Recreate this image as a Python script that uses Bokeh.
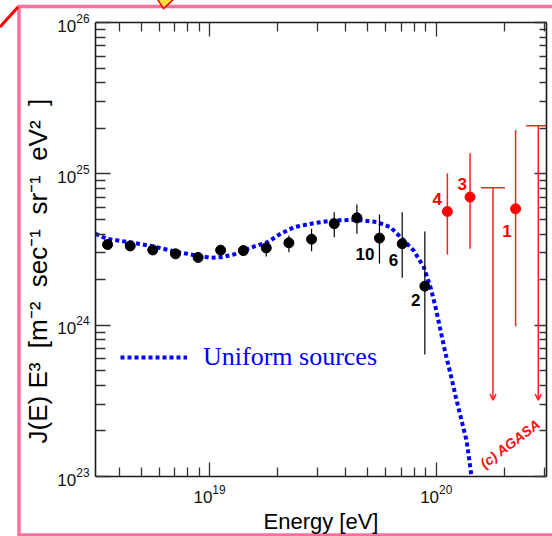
import math
from bokeh.plotting import figure
from bokeh.models import (Range1d, LogAxis, FixedTicker, CustomJSTickFormatter, Label, Title,
                          Arrow, OpenHead, Legend, LegendItem, ColumnDataSource)
from bokeh.embed import file_html
from bokeh.resources import INLINE
from bokeh.core.properties import value

# ---------------- data ----------------
energy = [3.55e18, 4.47e18, 5.62e18, 7.08e18, 8.91e18, 1.12e19, 1.41e19, 1.78e19,
          2.24e19, 2.82e19, 3.55e19, 4.47e19, 5.62e19, 7.08e19, 8.91e19]
flux = [3.41e24, 3.34e24, 3.14e24, 2.96e24, 2.80e24, 3.13e24, 3.11e24, 3.24e24,
        3.50e24, 3.70e24, 4.68e24, 5.12e24, 3.76e24, 3.45e24, 1.81e24]
flux_lo = [3.30e24, 3.23e24, 3.03e24, 2.85e24, 2.69e24, 3.00e24, 2.88e24, 2.84e24,
           3.03e24, 3.08e24, 3.81e24, 4.02e24, 2.56e24, 2.06e24, 0.64e24]
flux_hi = [3.52e24, 3.45e24, 3.26e24, 3.08e24, 2.92e24, 3.27e24, 3.36e24, 3.48e24,
           3.92e24, 4.34e24, 5.58e24, 6.27e24, 5.38e24, 5.58e24, 4.16e24]
event_labels = ["10", "6", "2"]
event_index = [12, 13, 14]

red_energy = [1.12e20, 1.41e20, 2.24e20]
red_flux = [5.64e24, 7.02e24, 5.87e24]
red_lo = [2.93e24, 3.20e24, 0.984e24]
red_hi = [1.01e25, 1.37e25, 1.95e25]
red_labels = ["4", "3", "1"]

ul_energy = [1.78e20, 2.82e20]
ul_flux = [8.09e24, 2.08e25]
ul_end = [3.2e23, 3.2e23]

curve_energy = [3.14e18, 3.52e18, 4.45e18, 5.58e18, 7.03e18, 8.83e18, 1.01e19, 1.12e19,
                1.28e19, 1.40e19, 1.62e19, 1.80e19, 2.06e19, 2.36e19, 2.88e19, 3.53e19,
                4.49e19, 5.50e19, 6.28e19, 6.97e19, 7.96e19, 8.81e19, 9.44e19, 9.93e19,
                1.045e20, 1.10e20, 1.156e20, 1.216e20, 1.294e20, 1.361e20, 1.432e20]
curve_flux = [4.02e24, 3.72e24, 3.53e24, 3.33e24, 3.07e24, 2.88e24, 2.79e24, 2.81e24,
              2.93e24, 3.11e24, 3.36e24, 3.53e24, 4.02e24, 4.44e24, 4.72e24, 4.92e24,
              4.97e24, 4.79e24, 4.44e24, 3.81e24, 3.11e24, 2.42e24, 1.78e24, 1.32e24,
              9.23e23, 6.47e23, 4.78e23, 3.43e23, 2.34e23, 1.73e23, 1.0e23]
curve_label = "Uniform sources"

x_major = [1e19, 1e20]
x_minor = [4e18, 5e18, 6e18, 7e18, 8e18, 9e18] + [k * 1e19 for k in range(2, 10)] + [2e20, 3e20]
y_major = [1e23, 1e24, 1e25, 1e26]
y_minor = [k * 10.0 ** n for n in (23, 24, 25) for k in range(2, 10)]
x_title = "Energy [eV]"
y_title = ("J(E) E\u00b3 \u00a0[m\u207b\u00b2 \u00a0sec\u207b\u00b9 \u00a0sr\u207b\u00b9 "
           "\u00a0eV\u00b2 \u00a0]")
credit = "(c) AGASA"

# ---------------- layout ----------------
W, H = 552, 536
FL, FR, FT, FB = 95, 546, 22, 476
def sx(px):
    return px - FL
def sy(py):
    return FB - py

FONT = "Liberation Sans"
x_lo = 10 ** (19 - (209 - FL) / 226.7)
x_hi = 10 ** (19 + (FR - 209) / 226.7)

p = figure(frame_width=FR - FL, frame_height=FB - FT,
           x_axis_type="log", y_axis_type="log",
           x_range=Range1d(x_lo, x_hi), y_range=Range1d(1e23, 1e26),
           min_border_left=FL, min_border_right=W - FR, min_border_top=FT,
           min_border_bottom=H - FB, output_backend="svg", toolbar_location=None)
p.grid.visible = False
p.outline_line_color = None
p.background_fill_color = "white"
p.border_fill_color = None

# slide decorations behind the figure (pink frame, red corner stroke, yellow marker)
deco = ("<svg xmlns='http://www.w3.org/2000/svg' width='552' height='536'>"
        "<rect x='19' y='6.5' width='620' height='528.5' fill='none' stroke='%23ff6f9b' stroke-width='3.5'/>"
        "<line x1='0' y1='27' x2='18' y2='7' stroke='%23ff0000' stroke-width='3'/>"
        "<polygon points='156,-3 176,-3 163.5,8.5' fill='%23ffe040' stroke='%23ff0000' stroke-width='1.5'/>"
        "</svg>")
p.styles = {"background-color": "white",
            "background-image": 'url("data:image/svg+xml;utf8,' + deco + '")',
            "background-repeat": "no-repeat"}

blank = CustomJSTickFormatter(code="return ''")
xt = FixedTicker(ticks=x_major, minor_ticks=x_minor)
yt = FixedTicker(ticks=y_major, minor_ticks=y_minor)

def style_axis(ax, major, minor, labels):
    if not labels:
        ax.formatter = blank
        ax.major_label_text_font_size = "1px"
        ax.major_label_standoff = 0
    else:
        ax.major_label_text_font = FONT
        ax.major_label_text_font_size = "17px"
        ax.major_label_text_color = "#111111"
    ax.axis_line_color = "#1a1a1a"
    ax.axis_line_width = 1.6
    ax.major_tick_line_color = "#333333"
    ax.minor_tick_line_color = "#333333"
    ax.major_tick_line_width = 1.3
    ax.minor_tick_line_width = 1.3
    ax.major_tick_in = major
    ax.major_tick_out = 0
    ax.minor_tick_in = minor
    ax.minor_tick_out = 0

p.xaxis.ticker = xt
p.yaxis.ticker = yt
style_axis(p.xaxis[0], 14, 9, True)
style_axis(p.yaxis[0], 15, 10, True)
p.xaxis.major_label_standoff = 8
p.yaxis.major_label_standoff = 6
p.xaxis.axis_label = x_title
p.xaxis.axis_label_text_font = FONT
p.xaxis.axis_label_text_font_size = "22px"
p.xaxis.axis_label_text_font_style = "normal"
p.xaxis.axis_label_text_color = "black"
p.xaxis.axis_label_standoff = 3

top = LogAxis(ticker=xt)
style_axis(top, 14, 9, False)
p.add_layout(top, "above")
right = LogAxis(ticker=yt)
style_axis(right, 12, 7, False)
p.add_layout(right, "right")

p.add_layout(Title(text=y_title, align="left", offset=33, standoff=4,
                   text_font=FONT, text_font_size="26px", text_font_style="normal",
                   text_color="black"), "left")

# ---------------- curve ----------------
curve = p.line(curve_energy, curve_flux, line_color="#0000ff", line_width=4, line_dash="4 3")
legend = Legend(items=[LegendItem(label=curve_label, renderers=[curve])],
                location=(sx(120), sy(372)), glyph_width=67, glyph_height=26,
                label_height=26, label_standoff=16, padding=0, margin=0, spacing=0,
                border_line_color=None, background_fill_alpha=0,
                label_text_font="Liberation Serif", label_text_font_size="26px",
                label_text_color="#0000ff")
p.add_layout(legend)

# ---------------- black data ----------------
p.segment(x0=energy, y0=flux_lo, x1=energy, y1=flux_hi, line_color="black", line_width=1.2)
p.scatter(energy, flux, size=10, marker="circle", fill_color="black", line_color="black")

lab_src = ColumnDataSource(dict(x=[energy[i] for i in event_index],
                                y=[flux[i] for i in event_index],
                                t=event_labels, dx=[-5, -4, -4.5], dy=[15.5, 16, 14]))
p.text(x="x", y="y", text="t", x_offset="dx", y_offset="dy", source=lab_src,
       text_align="right", text_baseline="middle", text_font=value(FONT),
       text_font_style="bold", text_font_size="17px", text_color="black")

# ---------------- red data ----------------
p.segment(x0=red_energy, y0=red_lo, x1=red_energy, y1=red_hi, line_color="#ff2020", line_width=1.5)
p.scatter(red_energy, red_flux, size=10, marker="circle", fill_color="#ff0000", line_color="#ff0000")
red_src = ColumnDataSource(dict(x=red_energy, y=red_flux, t=red_labels,
                                dx=[-5.5, -3, -4], dy=[-12.5, -13.5, 22]))
p.text(x="x", y="y", text="t", x_offset="dx", y_offset="dy", source=red_src,
       text_align="right", text_baseline="middle", text_font=value(FONT),
       text_font_style="bold", text_font_size="17px", text_color="#ff0000")

p.scatter(ul_energy, ul_flux, marker="dash", size=24, line_color="#ff2020", line_width=1.5)
for e, f, t in zip(ul_energy, ul_flux, ul_end):
    p.add_layout(Arrow(x_start=e, y_start=f, x_end=e, y_end=t,
                       line_color="#ff2020", line_width=1.5,
                       end=OpenHead(size=6, line_color="#ff2020", line_width=1.5)))

# ---------------- credit (kept inside the plot frame so it is not clipped) ----------------
p.add_layout(Label(x=sx(486), x_units="screen", y=sy(471), y_units="screen", text=credit,
                   angle=math.radians(37), text_font=FONT, text_font_style="bold italic",
                   text_font_size="14px", text_color="#ff1010"))

open("out.html", "w").write(file_html(p, INLINE))
